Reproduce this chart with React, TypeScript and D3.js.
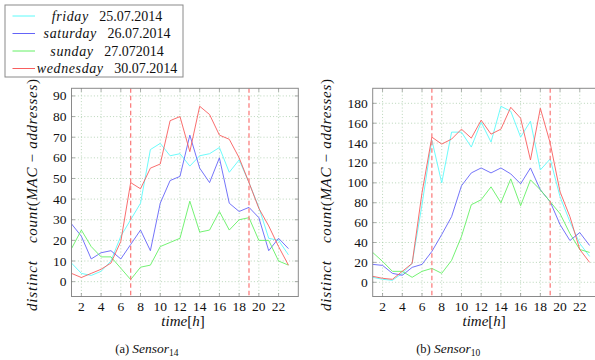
import * as React from 'react'
import * as d3 from 'd3'

// hours of the day (x)
const hours = [1, 2, 3, 4, 5, 6, 7, 8, 9, 10, 11, 12, 13, 14, 15, 16, 17, 18, 19, 20, 21, 22, 23]
const xTicks = [2, 4, 6, 8, 10, 12, 14, 16, 18, 20, 22]
const markers = [7, 19]

const days = ['friday', 'saturday', 'sunday', 'wednesday']
const dates = ['25.07.2014', '26.07.2014', '27.072014', '30.07.2014']
const colors = ['#5cfafa', '#6464f8', '#64f064', '#f85e5e']

// Sensor 14
const s14Friday = [9, 4, 3, 5, 10, 22, 30, 38, 64, 67, 61, 62, 56, 61, 62, 65, 53, 59, 48, 36, 21, 20, 13]
const s14Saturday = [28, 22, 11, 14, 15, 11, 18, 25, 15, 38, 49, 51, 71, 55, 48, 60, 38, 34, 36, 31, 15, 21, 16]
const s14Sunday = [16, 25, 17, 12, 12, 6.5, 1, 7, 8, 17, 19, 21, 39, 24, 25, 34, 25, 30, 31, 20, 20, 10, 8]
const s14Wednesday = [4, 2, 4, 6, 9, 19.5, 48, 45, 55, 57, 78, 80, 63, 85, 81, 71, 69, 60, 48, 35.5, 27, 17, 8]
const s14Ticks = [0, 10, 20, 30, 40, 50, 60, 70, 80, 90]

// Sensor 10
const s10Friday = [5, 3, 2, 9, 19, 78, 143, 100, 151, 151, 136, 161, 141, 177, 172, 146, 162, 113, 124, 86, 61, 39, 26]
const s10Saturday = [18, 17, 9, 7, 15, 18, 31, 48, 66, 97, 110, 115, 110, 115, 109, 99, 115, 93, 81, 58, 42, 50, 37]
const s10Sunday = [30, 21, 11, 11, 5, 11, 14, 9, 22, 46, 78, 83, 96, 80, 104, 77, 103, 93, 81, 69, 49, 33, 30]
const s10Wednesday = [6, 4, 3, 11, 19, 90, 146, 139, 144, 154, 145, 163, 149, 154, 176, 165, 123, 175, 140, 91, 66, 33, 20]
const s10Ticks = [0, 20, 40, 60, 80, 100, 120, 140, 160, 180]

const serif = 'Liberation Serif, serif'

interface PanelProps {
  left: number
  right: number
  yDomain: [number, number]
  yTicks: number[]
  series: number[][]
  labelX: number
  caption: string
  sub: string
}

function Panel({ left, right, yDomain, yTicks, series, labelX, caption, sub }: PanelProps) {
  const top = 88.3
  const bottom = 296.5
  const x = d3.scaleLinear().domain([1, 24]).range([left, right])
  const y = d3.scaleLinear().domain(yDomain).range([bottom, top])
  const line = d3.line<number>().x((_, i) => x(hours[i])).y(v => y(v))
  const cx = (left + x(23)) / 2 + 3
  return (
    <g fontFamily={serif}>
      {/* grid */}
      {xTicks.map(t => (
        <line key={'gx' + t} x1={x(t)} x2={x(t)} y1={top} y2={bottom}
          stroke="#a8cca8" strokeWidth={0.8} strokeDasharray="1,2.2" />
      ))}
      {yTicks.map(t => (
        <line key={'gy' + t} x1={left} x2={right} y1={y(t)} y2={y(t)}
          stroke="#a8cca8" strokeWidth={0.8} strokeDasharray="1,2.2" />
      ))}
      {/* series */}
      {series.map((s, i) => (
        <path key={i} d={line(s) || ''} fill="none" stroke={colors[i]} strokeWidth={0.9} />
      ))}
      {/* markers */}
      {markers.map(m => (
        <line key={'m' + m} x1={x(m)} x2={x(m)} y1={top} y2={bottom}
          stroke="#fb8080" strokeWidth={1.3} strokeDasharray="4.5,3" />
      ))}
      {/* frame & ticks */}
      <rect x={left} y={top} width={right - left} height={bottom - top} fill="none" stroke="#8a8a8a" strokeWidth={1} />
      {xTicks.map(t => (
        <g key={'tx' + t}>
          <line x1={x(t)} x2={x(t)} y1={bottom} y2={bottom - 3.5} stroke="#777" strokeWidth={0.6} />
          <line x1={x(t)} x2={x(t)} y1={top} y2={top + 3.5} stroke="#777" strokeWidth={0.6} />
          <text x={x(t)} y={311} textAnchor="middle" fontSize={13.5} fill="#111">{t}</text>
        </g>
      ))}
      {yTicks.map(t => (
        <g key={'ty' + t}>
          <line x1={left} x2={left + 3.5} y1={y(t)} y2={y(t)} stroke="#777" strokeWidth={0.6} />
          <line x1={right} x2={right - 3.5} y1={y(t)} y2={y(t)} stroke="#777" strokeWidth={0.6} />
          <text x={left - 5} y={y(t) + 4.5} textAnchor="end" fontSize={13.5} fill="#111">{t}</text>
        </g>
      ))}
      {/* axis labels */}
      <text x={cx} y={326} textAnchor="middle" fontSize={15} fill="#111">
        <tspan fontStyle="italic">time</tspan>[<tspan fontStyle="italic">h</tspan>]
      </text>
      <g transform={`translate(${labelX},0) rotate(-90)`} fontSize={15} fill="#111">
        <text x={-311} y={0} fontStyle="italic" textLength={50} lengthAdjust="spacing">distinct</text>
        <text x={-243} y={0} textLength={164} lengthAdjust="spacing">
          <tspan fontStyle="italic">count</tspan>(<tspan fontStyle="italic">MAC</tspan> − <tspan fontStyle="italic">addresses</tspan>)
        </text>
      </g>
      <text x={cx - 36} y={353} textAnchor="middle" fontSize={12.5} fill="#111">
        {caption} <tspan fontStyle="italic" fontSize={13.5}>Sensor</tspan>
        <tspan fontSize={9.5} dy={3}>{sub}</tspan>
      </text>
    </g>
  )
}

function Legend() {
  const rows = d3.scaleLinear().domain([0, 3]).range([16, 68.5])
  return (
    <g fontFamily={serif}>
      <rect x={5} y={5} width={178} height={72} fill="#fff" stroke="#8a8a8a" strokeWidth={1} />
      {days.map((d, i) => (
        <g key={d}>
          <line x1={12.5} x2={35} y1={rows(i)} y2={rows(i)} stroke={colors[i]} strokeWidth={1} />
          <text x={107} y={rows(i) + 4.6} textAnchor="middle" fontSize={14} fill="#111">
            <tspan fontStyle="italic" letterSpacing={0.6}>{d}</tspan>{'\u00a0\u00a0\u00a0'}{dates[i]}
          </text>
        </g>
      ))}
    </g>
  )
}

export default function App() {
  return (
    <svg width={595} height={360} style={{ position: 'absolute', left: 0, top: 0, background: '#fff' }}>
      <Panel left={71.5} right={298.3} yDomain={[-7.2, 93.7]} yTicks={s14Ticks}
        series={[s14Friday, s14Saturday, s14Sunday, s14Wednesday]} labelX={37} caption="(a)" sub="14" />
      <Panel left={372.7} right={599.5} yDomain={[-14.3, 195.1]} yTicks={s10Ticks}
        series={[s10Friday, s10Saturday, s10Sunday, s10Wednesday]} labelX={331} caption="(b)" sub="10" />
      <Legend />
    </svg>
  )
}
